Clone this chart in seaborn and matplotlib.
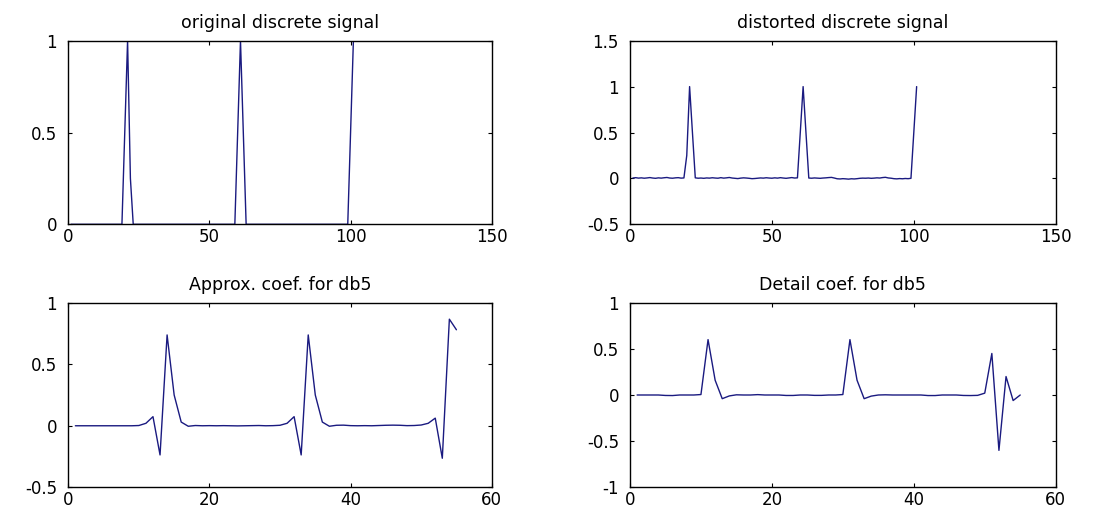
import numpy as np
import pandas as pd
import seaborn as sns
import matplotlib.pyplot as plt

sns.set_style("ticks")
plt.rcParams['font.family'] = ['DejaVu Sans']

# signal samples 1..101
original = [
    0, 0, 0, 0, 0, 0, 0, 0, 0, 0,
    0, 0, 0, 0, 0, 0, 0, 0, 0, 0.5,
    1, 0.25, 0, 0, 0, 0, 0, 0, 0, 0,
    0, 0, 0, 0, 0, 0, 0, 0, 0, 0,
    0, 0, 0, 0, 0, 0, 0, 0, 0, 0,
    0, 0, 0, 0, 0, 0, 0, 0, 0, 0.5,
    1, 0.5, 0, 0, 0, 0, 0, 0, 0, 0,
    0, 0, 0, 0, 0, 0, 0, 0, 0, 0,
    0, 0, 0, 0, 0, 0, 0, 0, 0, 0,
    0, 0, 0, 0, 0, 0, 0, 0, 0, 0.5,
    1,
]
distorted = [
    0.004, 0.008, 0.003, 0.006, 0.002, 0.005, 0.009, 0.004, 0.001, 0.006,
    0.003, 0.007, 0.010, 0.004, 0.002, 0.006, 0.008, 0.003, 0.005, 0.25,
    1.0, 0.5, 0.006, 0.002, 0.004, 0.001, 0.005, 0.003, 0.007, 0.004,
    0.002, 0.008, 0.003, 0.006, 0.010, 0.004, 0.001, -0.002, 0.003, 0.006,
    0.004, 0.001, -0.003, -0.001, 0.002, 0.005, 0.003, 0.007, 0.004, 0.002,
    0.006, 0.003, 0.008, 0.004, 0.001, 0.005, 0.009, 0.004, 0.006, 0.5,
    1.0, 0.5, 0.004, 0.002, 0.005, 0.003, 0.001, 0.004, 0.006, 0.009,
    0.011, 0.004, -0.004, -0.006, -0.003, -0.005, -0.008, -0.004, -0.006, -0.003,
    0.001, 0.003, 0.002, 0.004, 0.001, 0.003, 0.006, 0.004, 0.009, 0.012,
    0.005, 0.002, -0.003, -0.005, -0.002, -0.004, -0.001, -0.003, 0.001, 0.5,
    1.0,
]
# db5 coefficients 1..55
approx = [
    0, 0, 0, 0, 0, 0, 0, 0, 0, 0.002,
    0.02, 0.074, -0.237, 0.738, 0.25, 0.03, -0.004, 0.002, 0.0, 0.001,
    0.0, 0.001, 0.0, -0.001, 0.0, 0.001, 0.002, 0.0, 0.001, 0.004,
    0.02, 0.074, -0.237, 0.738, 0.25, 0.03, -0.004, 0.004, 0.005, 0.001,
    0.0, 0.001, 0.0, 0.002, 0.004, 0.005, 0.004, 0.001, 0.002, 0.006,
    0.02, 0.062, -0.264, 0.866, 0.78,
]
detail = [
    0, 0, 0, 0, -0.005, -0.006, 0, 0, 0, 0.005,
    0.60, 0.16, -0.04, -0.01, 0.002, 0.0, 0.0, 0.004, 0.0, 0.0,
    0.0, -0.005, -0.005, 0.0, 0.0, -0.004, -0.004, 0.0, 0.0, 0.005,
    0.60, 0.16, -0.04, -0.012, 0.0, 0.002, 0.0, 0.0, 0.0, 0.0,
    0.0, -0.006, -0.006, 0.0, 0.0, 0.0, -0.005, -0.006, -0.004, 0.02,
    0.45, -0.6, 0.2, -0.06, 0.0,
]

titles = ["original discrete signal", "distorted discrete signal",
          "Approx. coef. for db5", "Detail coef. for db5"]
series = [original, distorted, approx, detail]
xlims = [(0, 150), (0, 150), (0, 60), (0, 60)]
xticks = [[0, 50, 100, 150], [0, 50, 100, 150], [0, 20, 40, 60], [0, 20, 40, 60]]
ylims = [(0, 1), (-0.5, 1.5), (-0.5, 1), (-1, 1)]
yticks = [[0, 0.5, 1], [-0.5, 0, 0.5, 1, 1.5], [-0.5, 0, 0.5, 1], [-1, -0.5, 0, 0.5, 1]]

fig = plt.figure(figsize=(10.99, 5.08), dpi=100)
boxes = [
    [0.06215, 0.55846, 0.38526, 0.36142],
    [0.57325, 0.55846, 0.38735, 0.36142],
    [0.06215, 0.04075, 0.38526, 0.36339],
    [0.57325, 0.04075, 0.38735, 0.36339],
]

def fmt(v):
    return f"{v:g}"

for i in range(4):
    ax = fig.add_axes(boxes[i])
    vals = series[i]
    df = pd.DataFrame({"n": np.arange(1, len(vals) + 1), "v": vals})
    sns.lineplot(data=df, x="n", y="v", ax=ax, color="#1a1a80",
                 linewidth=1.0, estimator=None, sort=False)
    ax.set_xlim(*xlims[i])
    ax.set_ylim(*ylims[i])
    ax.set_xticks(xticks[i])
    ax.set_xticklabels([fmt(t) for t in xticks[i]])
    ax.set_yticks(yticks[i])
    ax.set_yticklabels([fmt(t) for t in yticks[i]])
    ax.set_xlabel("")
    ax.set_ylabel("")
    ax.set_title(titles[i], fontsize=12.5, pad=9, color="black")
    ax.tick_params(direction="in", top=True, right=True, length=3,
                   width=0.8, labelsize=12, colors="black")
    ax.tick_params(axis="x", pad=3)
    ax.tick_params(axis="y", pad=8)
    for s in ax.spines.values():
        s.set_visible(True)
        s.set_linewidth(1.0)
        s.set_color("black")

fig.savefig("out.png", dpi=100, facecolor="white")
